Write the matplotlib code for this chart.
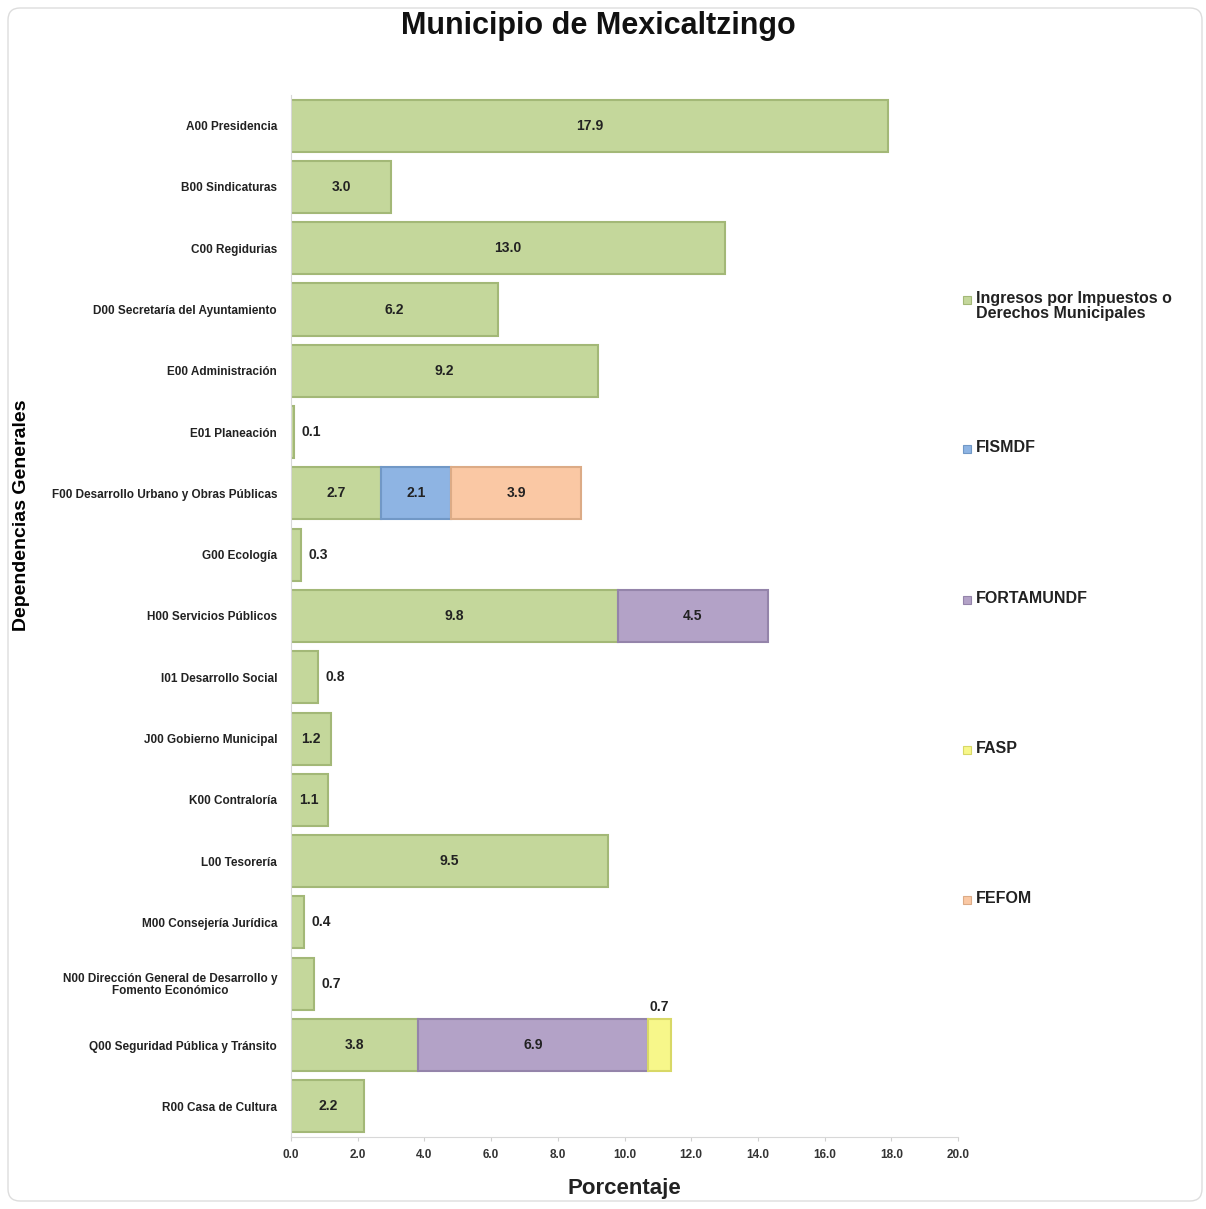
import numpy as np
import matplotlib
matplotlib.use("Agg")
import matplotlib.pyplot as plt
from matplotlib.patches import Rectangle, FancyBboxPatch

plt.rcParams['font.family'] = ['Liberation Sans', 'DejaVu Sans']

# Data
categories = [
    "A00 Presidencia", "B00 Sindicaturas", "C00 Regidurias",
    "D00 Secretaría del Ayuntamiento", "E00 Administración", "E01 Planeación",
    "F00 Desarrollo Urbano y Obras Públicas", "G00 Ecología",
    "H00 Servicios Públicos", "I01 Desarrollo Social", "J00 Gobierno Municipal",
    "K00 Contraloría", "L00 Tesorería", "M00 Consejería Jurídica",
    "N00 Dirección General de Desarrollo y\nFomento Económico",
    "Q00 Seguridad Pública y Tránsito", "R00 Casa de Cultura",
]
ingresos = [17.9, 3.0, 13.0, 6.2, 9.2, 0.1, 2.7, 0.3, 9.8, 0.8, 1.2, 1.1, 9.5, 0.4, 0.7, 3.8, 2.2]
fismdf = [0, 0, 0, 0, 0, 0, 2.1, 0, 0, 0, 0, 0, 0, 0, 0, 0, 0]
fortamundf = [0, 0, 0, 0, 0, 0, 0, 0, 4.5, 0, 0, 0, 0, 0, 0, 6.9, 0]
fasp = [0, 0, 0, 0, 0, 0, 0, 0, 0, 0, 0, 0, 0, 0, 0, 0.7, 0]
fefom = [0, 0, 0, 0, 0, 0, 3.9, 0, 0, 0, 0, 0, 0, 0, 0, 0, 0]

series_names = ["Ingresos por Impuestos o\nDerechos Municipales", "FISMDF",
                "FORTAMUNDF", "FASP", "FEFOM"]
series_vals = [ingresos, fismdf, fortamundf, fasp, fefom]
colors = ["#c4d79b", "#8eb4e3", "#b3a2c7", "#f7f78a", "#fac8a4"]
edges = ["#a3b877", "#7198c6", "#9484aa", "#d8d866", "#dcab86"]

fig = plt.figure(figsize=(12.06, 12.09), dpi=100)
ax = fig.add_axes([0.2413, 0.0596, 0.5531, 0.8618])

y = np.arange(len(categories))
left = np.zeros(len(categories))
for name, vals, c, ec in zip(series_names, series_vals, colors, edges):
    vals = np.array(vals)
    m = vals > 0
    ax.barh(y[m], vals[m], left=left[m], height=0.85, color=c, edgecolor=ec, linewidth=1.5)
    for i, v in enumerate(vals):
        if v <= 0:
            continue
        if name == "FASP":
            ax.text(left[i] + v / 2, y[i] - 0.5, f"{v:.1f}", ha='center', va='bottom',
                    fontsize=10, fontweight='bold', color='#222222')
        elif v >= 1:
            ax.text(left[i] + v / 2, y[i], f"{v:.1f}", ha='center', va='center',
                    fontsize=10, fontweight='bold', color='#222222')
        else:
            ax.text(left[i] + v + 0.22, y[i], f"{v:.1f}", ha='left', va='center',
                    fontsize=10, fontweight='bold', color='#222222')
    left = left + vals

ax.set_xlim(0, 20)
ax.set_ylim(len(categories) - 0.5, -0.5)
ax.set_xticks(np.arange(0, 21, 2))
ax.set_xticklabels([f"{t:.1f}" for t in np.arange(0, 21, 2)], fontsize=8.5,
                   fontweight='bold', color='#333333')
ax.set_yticks(y)
ax.set_yticklabels(categories, fontsize=8.5, fontweight='bold', color='#222222',
                   linespacing=0.95, multialignment='center')
ax.tick_params(axis='y', length=0, pad=10)
ax.tick_params(axis='x', length=3, color='#d0d0d0', pad=6)
for s in ['top', 'right']:
    ax.spines[s].set_visible(False)
ax.spines['bottom'].set_color('#d8d8d8')
ax.spines['left'].set_color('#d8d8d8')

ax.set_xlabel("Porcentaje", fontsize=16, fontweight='bold', color='#222222', labelpad=12)
fig.text(22 / 1206, 1 - 515 / 1209, "Dependencias Generales", rotation=90,
         ha='center', va='center', fontsize=14, fontweight='bold',
         family=['Liberation Sans Narrow', 'Liberation Sans', 'DejaVu Sans'])
fig.text(598 / 1206, 1 - 26 / 1209, "Municipio de Mexicaltzingo", ha='center',
         va='center', fontsize=22, fontweight='bold', color='#111111')

# legend placed down the right side
leg_y = [300, 449, 600, 750, 900]
for name, c, ec, ly in zip(series_names, colors, edges, leg_y):
    fig.patches.append(Rectangle((963 / 1206, 1 - (ly + 4) / 1209), 8 / 1206, 8 / 1209,
                                 transform=fig.transFigure, facecolor=c, edgecolor=ec,
                                 linewidth=0.8))
    fig.text(976 / 1206, 1 - (ly - 9) / 1209, name, ha='left', va='top', fontsize=11.5,
             fontweight='bold', color='#222222', linespacing=1.0)

# light frame round the chart
fig.patches.append(FancyBboxPatch((8 / 1206, 8 / 1209), 1194 / 1206, 1193 / 1209,
                                  boxstyle="round,pad=0,rounding_size=0.01",
                                  transform=fig.transFigure, facecolor='none',
                                  edgecolor='#dddddd', linewidth=1))

fig.savefig("out.png", dpi=100)
